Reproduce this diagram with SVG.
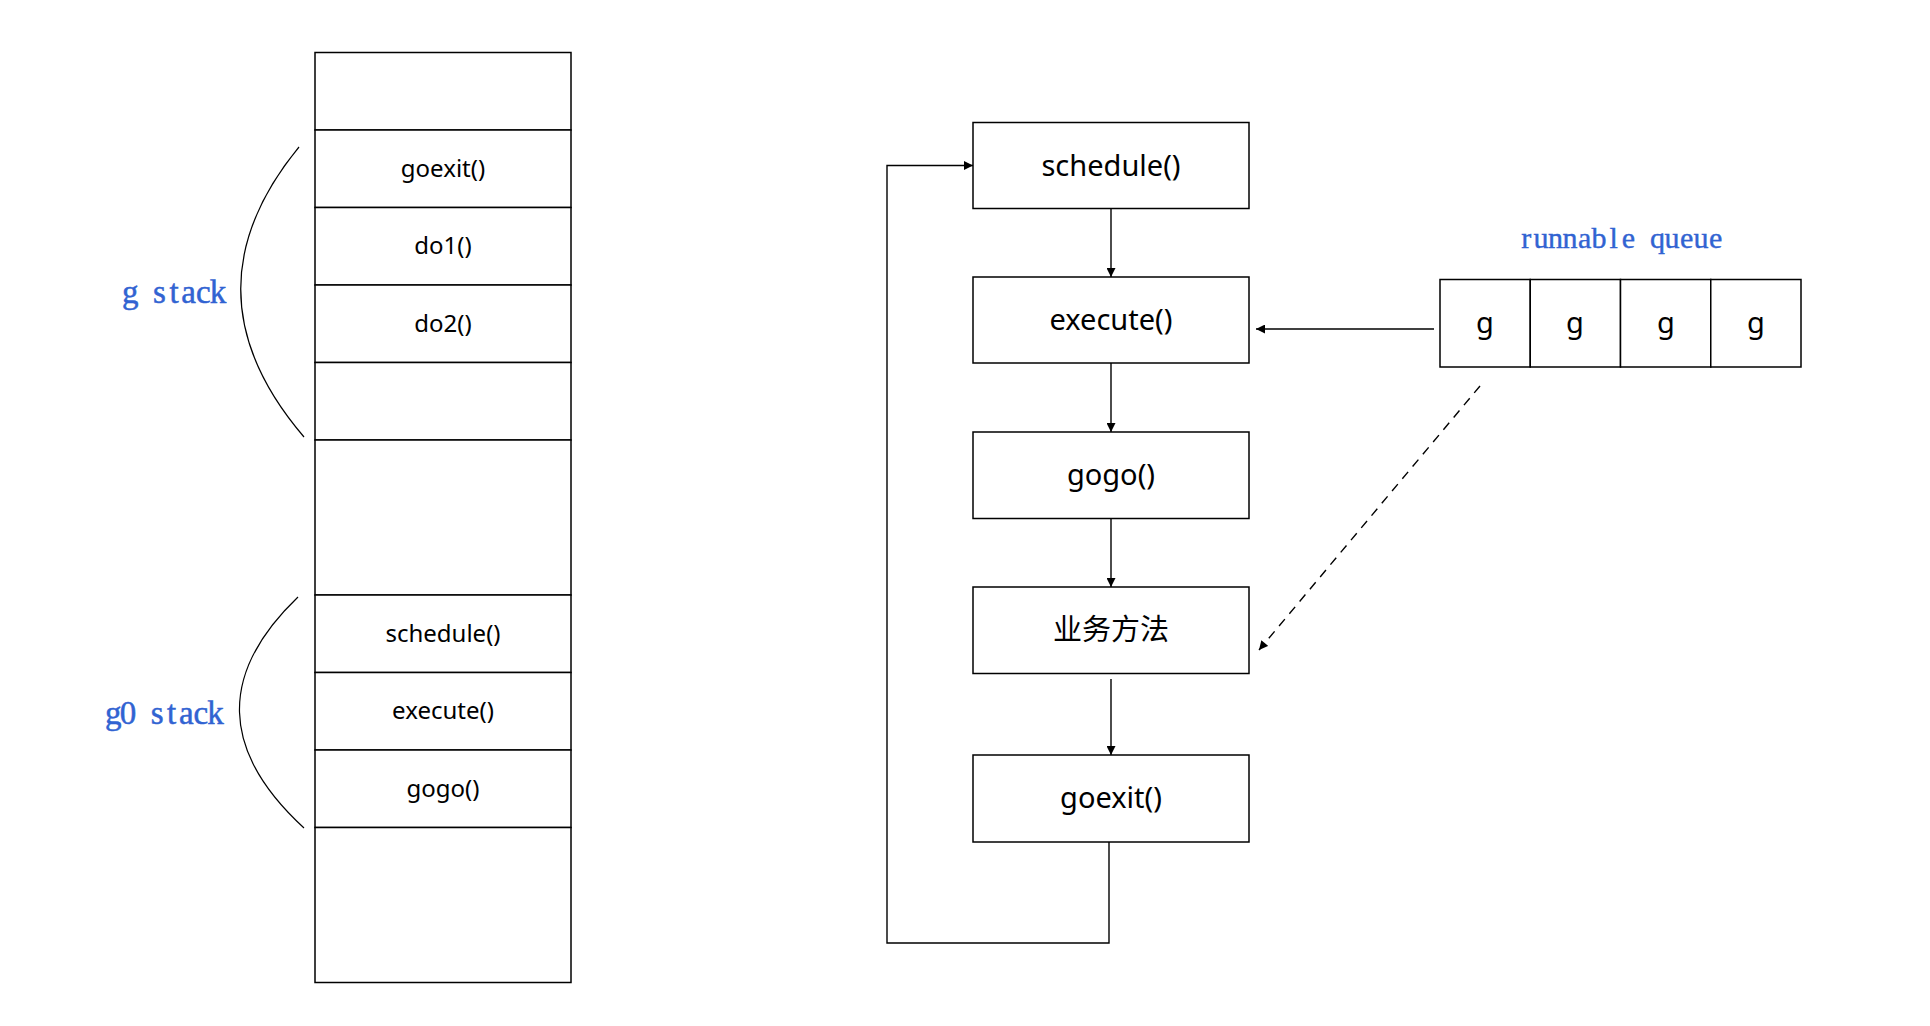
<svg xmlns="http://www.w3.org/2000/svg" width="1930" height="1026" viewBox="0 0 1930 1026">
<style>
.cell{fill:#fff;stroke:#000;stroke-width:1.5}
.st{font-family:"Noto Sans","Lato",sans-serif;font-size:24px;fill:#000;text-anchor:middle}
.bx{font-family:"Noto Sans","Noto Sans CJK SC",sans-serif;font-size:29px;fill:#000;text-anchor:middle}
.lbl{font-family:"Liberation Serif","DejaVu Serif",serif;font-size:33px;fill:#3163d2;stroke:#3163d2;stroke-width:0.5;text-anchor:middle}
.lbl2{font-family:"Liberation Serif","DejaVu Serif",serif;font-size:30px;fill:#3163d2;stroke:#3163d2;stroke-width:0.4;text-anchor:middle}
.arc{fill:none;stroke:#000;stroke-width:1.2}
.con{fill:none;stroke:#000;stroke-width:1.4}
</style>
<defs>
<marker id="arr" viewBox="0 0 10 10" refX="10" refY="5" markerWidth="10" markerHeight="9" markerUnits="userSpaceOnUse" orient="auto">
<path d="M0,0 L10,5 L0,10 z" fill="#000"/>
</marker>
</defs>
<rect width="1930" height="1026" fill="#fff"/>

<g id="stack">
<g id="s0"><rect class="cell" x="315" y="52.5" width="256" height="77.5"/></g>
<g id="s1"><rect class="cell" x="315" y="130" width="256" height="77.5"/><text class="st" x="443" y="176.5">goexit()</text></g>
<g id="s2"><rect class="cell" x="315" y="207.5" width="256" height="77.5"/><text class="st" x="443" y="254">do1()</text></g>
<g id="s3"><rect class="cell" x="315" y="285" width="256" height="77.5"/><text class="st" x="443" y="331.5">do2()</text></g>
<g id="s4"><rect class="cell" x="315" y="362.5" width="256" height="77.5"/></g>
<g id="s5"><rect class="cell" x="315" y="440" width="256" height="155"/></g>
<g id="s6"><rect class="cell" x="315" y="595" width="256" height="77.5"/><text class="st" x="443" y="641.5">schedule()</text></g>
<g id="s7"><rect class="cell" x="315" y="672.5" width="256" height="77.5"/><text class="st" x="443" y="719">execute()</text></g>
<g id="s8"><rect class="cell" x="315" y="750" width="256" height="77.5"/><text class="st" x="443" y="796.5">gogo()</text></g>
<g id="s9"><rect class="cell" x="315" y="827.5" width="256" height="155"/></g>
</g>

<g id="gstack">
<path class="arc" d="M299,147 Q180,292 304,437"/>
<text class="lbl" x="130.3 144.9 159.5 174.1 188.7 203.3 217.9" y="303">g stack</text>
</g>
<g id="g0stack">
<path class="arc" d="M298,597 Q178,712 304,828"/>
<text class="lbl" x="113.3 127.9 142.5 157.1 171.7 186.3 200.9 215.5" y="724">g0 stack</text>
</g>

<g id="schedule"><rect class="cell" x="973" y="122.5" width="276" height="86"/><text class="bx" x="1111" y="175.5">schedule()</text></g>
<g id="execute"><rect class="cell" x="973" y="277" width="276" height="86"/><text class="bx" x="1111" y="330">execute()</text></g>
<g id="gogo"><rect class="cell" x="973" y="432" width="276" height="86.5"/><text class="bx" x="1111" y="485">gogo()</text></g>
<g id="biz"><rect class="cell" x="973" y="587" width="276" height="86.5"/><text class="bx" x="1111" y="640">业务方法</text></g>
<g id="goexit"><rect class="cell" x="973" y="755" width="276" height="87"/><text class="bx" x="1111" y="808">goexit()</text></g>

<g id="queue">
<text class="lbl2" x="1526.3 1540.9 1555.4 1570 1584.6 1599.1 1613.7 1628.3 1642.9 1657.4 1672 1686.6 1701.1 1715.7" y="248">runnable queue</text>
<rect class="cell" x="1440" y="279.5" width="90.25" height="87.5"/>
<rect class="cell" x="1530.25" y="279.5" width="90.25" height="87.5"/>
<rect class="cell" x="1620.5" y="279.5" width="90.25" height="87.5"/>
<rect class="cell" x="1710.75" y="279.5" width="90.25" height="87.5"/>
<text class="bx" x="1485" y="333">g</text>
<text class="bx" x="1575" y="333">g</text>
<text class="bx" x="1666" y="333">g</text>
<text class="bx" x="1756" y="333">g</text>
</g>

<g id="connectors">
<path class="con" d="M1111,208.5 V277" marker-end="url(#arr)"/>
<path class="con" d="M1111,363 V432" marker-end="url(#arr)"/>
<path class="con" d="M1111,518.5 V587" marker-end="url(#arr)"/>
<path class="con" d="M1111,679 V755" marker-end="url(#arr)"/>
<path class="con" d="M1109,842 V943 H887 V165.5 H973" marker-end="url(#arr)"/>
<path class="con" d="M1434,329 H1256" marker-end="url(#arr)"/>
<path class="con" d="M1480,386 L1259,650" stroke-dasharray="9,7" marker-end="url(#arr)"/>
</g>
</svg>
